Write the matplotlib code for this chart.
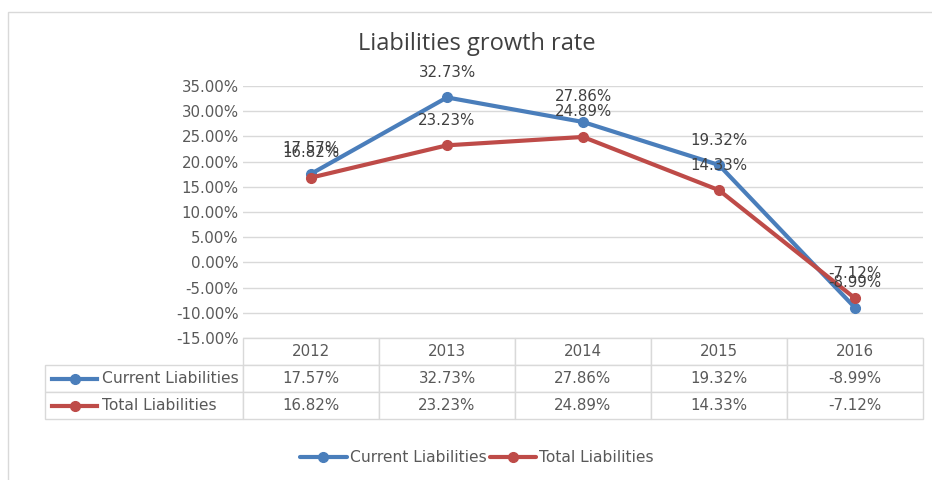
import matplotlib
matplotlib.use("Agg")
import matplotlib.pyplot as plt
from matplotlib.ticker import FuncFormatter
from matplotlib.lines import Line2D
from matplotlib.patches import Rectangle

# data
years = ["2012", "2013", "2014", "2015", "2016"]
current_liabilities = [17.57, 32.73, 27.86, 19.32, -8.99]
total_liabilities = [16.82, 23.23, 24.89, 14.33, -7.12]
series_names = ["Current Liabilities", "Total Liabilities"]
y_ticks = list(range(-15, 40, 5))

blue = "#4a7ebb"
red = "#be4b48"
text_grey = "#595959"
label_grey = "#404040"
grid_grey = "#d9d9d9"

plt.rcParams['font.family'] = ['DejaVu Sans']

W, H = 932, 480
fig = plt.figure(figsize=(W / 100, H / 100), dpi=100)

# plot area in pixels: x 243..923, y 86..338
ax = fig.add_axes([243 / W, 1 - 338 / H, 680 / W, 252 / H])

x = list(range(len(years)))
series = [(current_liabilities, blue, series_names[0]),
          (total_liabilities, red, series_names[1])]

for vals, color, name in series:
    ax.plot(x, vals, color=color, lw=3, marker='o', ms=7, label=name,
            solid_capstyle='round', zorder=3)
    for xi, v in zip(x, vals):
        ax.annotate(f"{v:.2f}%", (xi, v), xytext=(0, 25), textcoords='offset pixels',
                    ha='center', va='center', fontsize=10.8, color=label_grey, zorder=4)

ax.set_xlim(-0.5, len(years) - 0.5)
ax.set_ylim(-15, 35)
ax.set_yticks(y_ticks)
ax.yaxis.set_major_formatter(FuncFormatter(lambda v, p: f"{v:.2f}%"))
ax.set_xticks([])
ax.tick_params(axis='y', length=0, labelsize=10.8, colors=text_grey, pad=3)
ax.yaxis.grid(True, color=grid_grey, lw=1)
ax.set_axisbelow(True)
for s in ax.spines.values():
    s.set_visible(False)

# data table under the plot
label_w, col_w = 198, 136
total_w = label_w + col_w * len(years)
cell_text = [[name] + [f"{v:.2f}%" for v in vals] for vals, _, name in series]
tbl = ax.table(cellText=cell_text, colLabels=[""] + years,
               colWidths=[label_w / total_w] + [col_w / total_w] * len(years),
               cellLoc='center',
               bbox=[-label_w / 680, -81 / 252, total_w / 680, 81 / 252])
tbl.auto_set_font_size(False)
tbl.set_fontsize(10.8)
for (r, c), cell in tbl.get_celld().items():
    cell.set_edgecolor(grid_grey)
    cell.set_linewidth(1)
    cell.get_text().set_color(text_grey)
    if r == 0 and c == 0:
        cell.visible_edges = ''
    if r > 0 and c == 0:
        cell._loc = 'left'
        cell.get_text().set_ha('left')
        cell.get_text().set_fontsize(11.2)
        cell.PAD = 0.29

# little legend keys inside the row label cells
for i, (vals, color, name) in enumerate(series):
    yk = (338 - (379 + 27 * i)) / 252
    key = Line2D([(52 - 243) / 680, (97 - 243) / 680], [yk, yk], color=color, lw=3,
                 transform=ax.transAxes, clip_on=False)
    dot = Line2D([(74.5 - 243) / 680], [yk], color=color, marker='o', ms=7,
                 transform=ax.transAxes, clip_on=False)
    ax.add_line(key)
    ax.add_line(dot)

fig.text(477 / W, 1 - 44 / H, "Liabilities growth rate", ha='center', va='center',
         fontsize=17, family=['Open Sans', 'DejaVu Sans'], color=label_grey)

handles, labels = ax.get_legend_handles_labels()
fig.legend(handles, labels, loc='center', bbox_to_anchor=(477 / W, 1 - 458 / H),
           ncol=2, frameon=False, handlelength=3.0, handletextpad=0.2,
           columnspacing=0.2, fontsize=11.2, labelcolor=text_grey)

# outer chart border
fig.patches.append(Rectangle((8 / W, -0.05), 1.0, 1 - 12 / H + 0.05,
                             transform=fig.transFigure, fill=False,
                             ec=grid_grey, lw=1))

fig.savefig("out.png", dpi=100)
